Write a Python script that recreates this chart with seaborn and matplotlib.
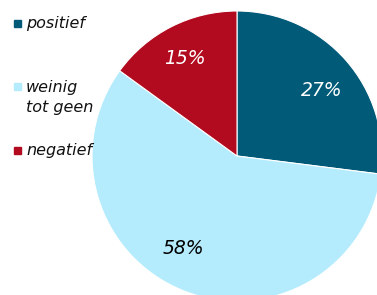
import matplotlib
matplotlib.use("Agg")
import matplotlib.pyplot as plt
import seaborn as sns
from matplotlib.patches import Rectangle

# data
categories = ["positief", "weinig\ntot geen", "negatief"]
values = [27, 58, 15]
colors = ["#005A78", "#B5ECFD", "#B20A1E"]
label_colors = ["white", "black", "white"]

sns.set_theme(style="white")
plt.rcParams['font.family'] = ['DejaVu Sans']

W, H = 377, 295
fig = plt.figure(figsize=(W / 100, H / 100), dpi=100)
ax = fig.add_axes([0, 0, 1, 1])

# pie centre and radius in pixels
cx, cy, r = 237, 156, 145
wedges, _ = ax.pie(values, colors=colors, startangle=90, counterclock=False,
                   wedgeprops=dict(edgecolor="white", linewidth=0.8))

# percentage labels inside the slices
label_pos = [(322, 90), (183, 248), (185, 58)]
for (px, py), v, c in zip(label_pos, values, label_colors):
    ax.text((px - cx) / r, (cy - py) / r, f"{v}%", color=c, fontsize=13.5,
            style="italic", ha="center", va="center")

ax.set_xlim(-cx / r, (W - cx) / r)
ax.set_ylim(-(H - cy) / r, cy / r)
ax.set_aspect("auto")
ax.axis("off")

# legend on the left
legend_y = [23, 87, 150]
for cat, col, y in zip(categories, colors, legend_y):
    fig.patches.append(Rectangle((14 / W, 1 - (y + 3.5) / H), 7 / W, 7 / H,
                                 transform=fig.transFigure, color=col))
    fig.text(26 / W, 1 - (y - 7) / H, cat, fontsize=11.5, style="italic",
             color="#111111", va="top", ha="left", linespacing=1.45)

fig.savefig("out.png", dpi=100)
